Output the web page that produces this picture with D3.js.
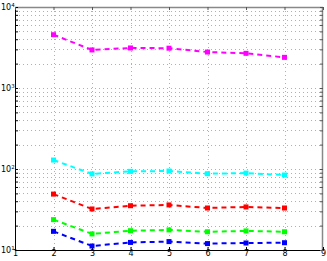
<!DOCTYPE html>
<html><head><meta charset="utf-8">
<script src="https://cdn.jsdelivr.net/npm/d3@7"></script>
<style>body{margin:0;background:#fff}svg{display:block}</style>
</head><body>
<script>
const xs = [2,3,4,5,6,7,8];
const magenta = [4550,2950,3120,3100,2780,2680,2390];
const cyan = [129,87,93.5,94.5,87.5,89,84.3];
const red = [49,32.1,35.2,36,33,34,33];
const green = [23.7,15.8,17.3,17.7,16.8,17.2,16.8];
const blue = [17,11.2,12.4,12.7,12.0,12.2,12.3];
const seriesColors = ["#ff00ff","#00ffff","#ff0000","#00ff00","#0000ff"];
const xTicks = [1,2,3,4,5,6,7,8,9];
const yMajor = [10,100,1000,10000];
const yExp = ["1","2","3","4"];

const W=327,H=261, m={l:15,r:4,t:7,b:11};
const svg=d3.select("body").append("svg").attr("width",W).attr("height",H);
const x=d3.scaleLinear().domain([1,9]).range([m.l,W-m.r]);
const y=d3.scaleLog().domain([10,10000]).range([H-m.b,m.t]);

// minor values
const yMinor=[];
[10,100,1000].forEach(d=>{for(let k=2;k<=9;k++) yMinor.push(d*k);});
const gGrid=svg.append("g").attr("stroke","#b0b0b0").attr("stroke-width",1).attr("stroke-dasharray","1,3");
gGrid.selectAll(".h").data(yMinor.concat(yMajor.slice(1,3))).join("line")
  .attr("x1",m.l).attr("x2",W-m.r).attr("y1",d=>Math.round(y(d))+0.5).attr("y2",d=>Math.round(y(d))+0.5);
gGrid.selectAll(".v").data(xTicks.slice(1,8)).join("line")
  .attr("y1",m.t).attr("y2",H-m.b).attr("x1",d=>Math.round(x(d))+0.5).attr("x2",d=>Math.round(x(d))+0.5);

// frame
svg.append("line").attr("x1",m.l).attr("x2",W-m.r).attr("y1",m.t+0.5).attr("y2",m.t+0.5).attr("stroke","#888").attr("stroke-width",1.5);
svg.append("line").attr("x1",W-m.r-0.5).attr("x2",W-m.r-0.5).attr("y1",m.t).attr("y2",H-m.b).attr("stroke","#888").attr("stroke-width",1.5);

// axes
const xAxis=d3.axisBottom(x).tickValues(xTicks).tickSize(-3).tickFormat(d3.format("d"));
const gx=svg.append("g").attr("transform",`translate(0,${H-m.b})`).call(xAxis);
gx.select(".domain").attr("stroke","#000");
gx.selectAll(".tick line").attr("stroke","#000");
gx.selectAll("text").attr("font-family","DejaVu Sans, sans-serif").attr("font-size",8).attr("dy","0.55em").attr("y",2).attr("fill","#000");

const gy=svg.append("g").attr("transform",`translate(${m.l},0)`).call(d3.axisLeft(y).tickValues(yMajor.concat(yMinor)).tickSize(-3).tickFormat(""));
gy.select(".domain").attr("stroke","#000");
gy.selectAll(".tick line").attr("stroke","#000");
// right ticks
svg.append("g").attr("transform",`translate(${W-m.r},0)`).call(d3.axisRight(y).tickValues(yMajor.concat(yMinor)).tickSize(-3).tickFormat(""))
  .call(g=>{g.select(".domain").remove();g.selectAll(".tick line").attr("stroke","#555");});
// top ticks
svg.append("g").attr("transform",`translate(0,${m.t})`).call(d3.axisTop(x).tickValues(xTicks).tickSize(-3).tickFormat(""))
  .call(g=>{g.select(".domain").remove();g.selectAll(".tick line").attr("stroke","#555");});

// y labels
const lab=svg.append("g").attr("font-family","DejaVu Sans, sans-serif").attr("fill","#000");
yMajor.forEach((v,i)=>{
  const t=lab.append("text").attr("x",1).attr("y",y(v)+3).attr("font-size",8);
  t.append("tspan").text("10");
  t.append("tspan").attr("font-size",5.5).attr("dy",-3.5).text(yExp[i]);
});

// series
const all=[magenta,cyan,red,green,blue];
const line=d3.line().x((d,i)=>x(xs[i])).y(d=>y(d));
all.forEach((s,k)=>{
  const c=seriesColors[k];
  svg.append("path").datum(s).attr("d",line).attr("fill","none").attr("stroke",c).attr("stroke-width",2).attr("stroke-dasharray","5,4");
  svg.append("g").selectAll("rect").data(s).join("rect")
    .attr("x",(d,i)=>x(xs[i])-2.5).attr("y",d=>y(d)-2.5).attr("width",5).attr("height",5).attr("fill",c);
});
</script>
</body></html>
